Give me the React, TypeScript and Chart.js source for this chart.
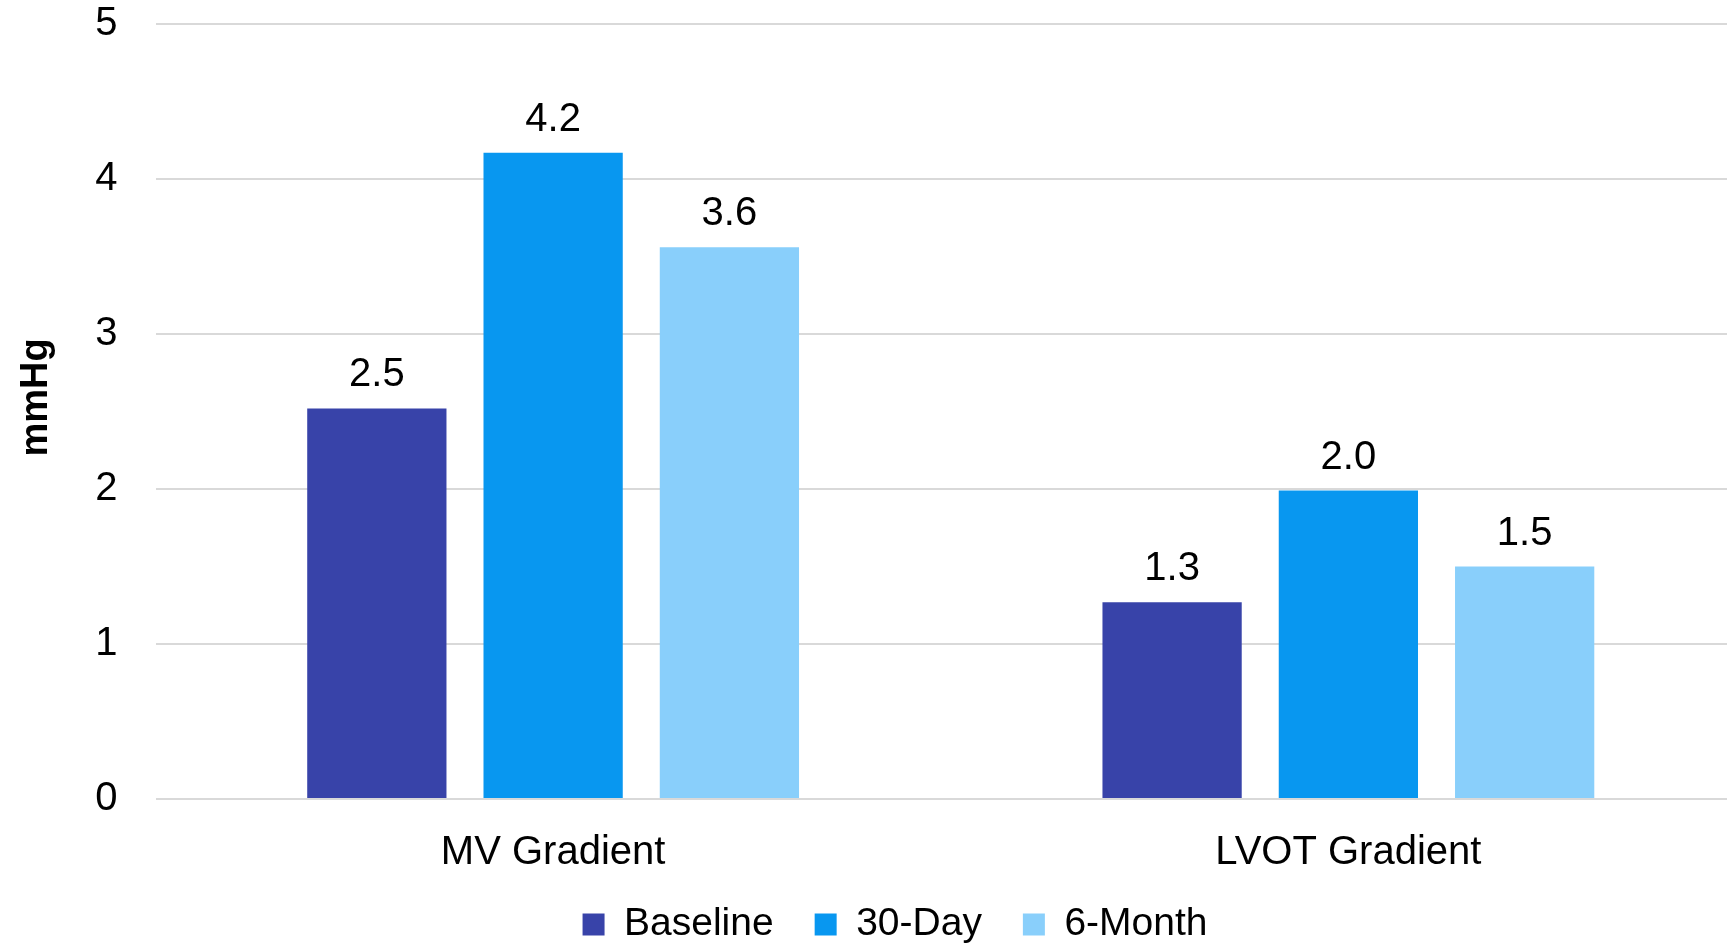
import React, { useEffect, useRef } from "react";
import { Chart, registerables } from "chart.js";

Chart.register(...registerables);

const categories = ["MV Gradient", "LVOT Gradient"];
const seriesNames = ["Baseline", "30-Day", "6-Month"];
const baselineValues = [2.52, 1.27];
const day30Values = [4.17, 1.99];
const month6Values = [3.56, 1.5];
const seriesColors = ["#3843A9", "#0897F0", "#89CFFB"];
const yAxisTitle = "mmHg";
const yMin = 0;
const yMax = 5;
const yStep = 1;

const FONT = "'Liberation Sans', Arial, sans-serif";

const valueLabels = {
  id: "valueLabels",
  afterDatasetsDraw(chart: any) {
    const ctx = chart.ctx;
    ctx.save();
    ctx.font = `40px ${FONT}`;
    ctx.fillStyle = "#000";
    ctx.textAlign = "center";
    ctx.textBaseline = "alphabetic";
    chart.data.datasets.forEach((ds: any, i: number) => {
      const meta = chart.getDatasetMeta(i);
      meta.data.forEach((bar: any, j: number) => {
        const v = ds.data[j] as number;
        ctx.fillText(v.toFixed(1), bar.x, bar.y - 22);
      });
    });
    ctx.restore();
  },
};

const yTitlePlugin = {
  id: "yTitlePlugin",
  afterDraw(chart: any) {
    const ctx = chart.ctx;
    const area = chart.chartArea;
    ctx.save();
    ctx.translate(37, (area.top + area.bottom) / 2 - 14);
    ctx.rotate(-Math.PI / 2);
    ctx.font = `bold 38px ${FONT}`;
    ctx.fillStyle = "#000";
    ctx.textAlign = "center";
    ctx.textBaseline = "middle";
    ctx.fillText(yAxisTitle, 0, 0);
    ctx.restore();
  },
};

const legendShift = {
  id: "legendShift",
  afterLayout(chart: any) {
    if (chart.legend) {
      chart.legend.left += 22;
      chart.legend.right += 22;
      chart.legend.top -= 10;
      chart.legend.bottom -= 10;
    }
  },
};

export default function App() {
  const canvasRef = useRef<HTMLCanvasElement | null>(null);

  useEffect(() => {
    if (!canvasRef.current) return;
    const seriesValues = [baselineValues, day30Values, month6Values];
    const chart = new Chart(canvasRef.current, {
      type: "bar",
      data: {
        labels: categories,
        datasets: seriesNames.map((name, i) => ({
          label: name,
          data: seriesValues[i],
          backgroundColor: seriesColors[i],
          borderWidth: 0,
          categoryPercentage: 0.665,
          barPercentage: 0.79,
        })),
      },
      options: {
        animation: false,
        responsive: true,
        maintainAspectRatio: false,
        layout: { padding: { top: 24, right: 0, bottom: 0, left: 0 } },
        plugins: {
          tooltip: { enabled: false },
          legend: {
            position: "bottom",
            labels: {
              boxWidth: 22,
              boxHeight: 22,
              padding: 41,
              color: "#000",
              font: { size: 39, family: FONT },
            },
          },
        },
        scales: {
          x: {
            grid: { display: false, drawTicks: false },
            border: { display: false },
            ticks: {
              color: "#000",
              font: { size: 40, family: FONT, lineHeight: 1 },
              padding: 34,
            },
            afterFit: (s: any) => {
              s.height = 75;
            },
          },
          y: {
            min: yMin,
            max: yMax,
            ticks: {
              stepSize: yStep,
              color: "#000",
              font: { size: 40, family: FONT },
              padding: 0,
            },
            grid: {
              color: "#D9D9D9",
              lineWidth: 2,
              drawTicks: true,
              tickLength: 38,
              tickColor: "rgba(0,0,0,0)",
            },
            border: { display: false },
            title: { display: false },
            afterFit: (s: any) => {
              s.width = 155.5;
            },
          },
        },
      },
      plugins: [valueLabels, yTitlePlugin, legendShift],
    });
    return () => chart.destroy();
  }, []);

  return (
    <div
      style={{
        position: "fixed",
        left: 0,
        top: 0,
        width: 1727,
        height: 946,
        overflow: "hidden",
        background: "#fff",
      }}
    >
      <div style={{ position: "relative", width: 1746, height: 964 }}>
        <canvas ref={canvasRef} />
      </div>
    </div>
  );
}
